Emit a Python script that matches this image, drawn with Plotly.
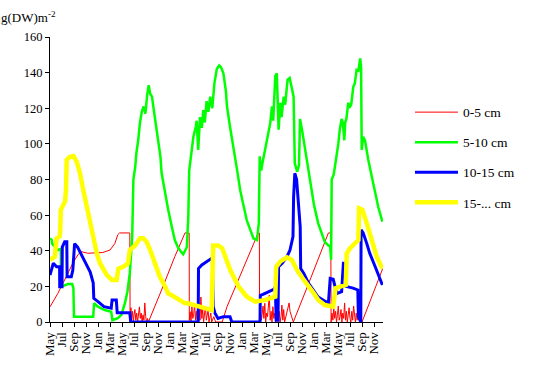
import plotly.graph_objects as go

# ---- axis labels ----
tick_months = list(range(0, 55, 2))
tick_labels = ["May", "Jul", "Sep", "Nov", "Jan", "Mar"] * 4 + ["May", "Jul", "Sep", "Nov"]

# ---- 0-5 cm (months since May of year 1, g m-2) ----
t_0_5 = [0, 1.3, 2.7, 3.8, 4.7, 5.2, 6.3, 8, 8.8, 10, 10.8, 11.3, 11.6, 13.3,
         13.35, 13.5, 13.6, 13.75, 13.9, 14.0, 14.15, 14.3, 14.45, 14.6, 14.75, 14.9, 15.05, 15.2, 15.35,
         15.5, 15.65, 15.8, 15.95, 16.1, 16.25, 16.4,
         18.6, 20.8, 22.5, 23.2,
         23.22, 23.35, 23.5, 23.65, 23.8, 23.95, 24.1, 24.25, 24.4, 24.55, 24.7, 24.85, 25.0, 25.15, 25.3,
         25.45, 25.6, 25.75, 25.9, 26.05, 26.2, 26.35, 26.5, 26.65, 26.8, 26.95, 27.1, 27.3, 27.6, 28.0, 28.7,
         29.5, 34.7, 34.9,
         34.92, 35.05, 35.2, 35.35, 35.5, 35.65, 35.8, 35.95, 36.1, 36.25, 36.4, 36.55, 36.7, 36.85, 37.0,
         37.15, 37.3, 37.45, 37.6, 37.75, 37.9, 38.05, 38.2, 38.35, 38.5, 38.65, 38.8, 38.95, 39.1, 39.25,
         39.4, 39.55, 39.7, 39.85, 40.0, 40.3, 40.5, 40.55,
         43.5, 46.4, 46.8,
         46.85, 47.0, 47.15, 47.3, 47.45, 47.6, 47.75, 47.9, 48.05, 48.2, 48.35, 48.5, 48.65, 48.8, 48.95,
         49.1, 49.25, 49.4, 49.55, 49.7, 49.85, 50.0, 50.15, 50.3, 50.45, 50.6, 50.75, 50.9, 51.05, 51.2,
         51.35, 51.5, 51.65, 51.8, 52.0,
         53.5, 55.45]
v_0_5 = [8.5, 16, 25.4, 33, 38, 39.5, 38.6, 38.6, 39, 40.4, 44, 49, 50, 50,
         2, 8, 1, 6, 0, 4, 7, 1, 5, 0, 3, 8.5, 2, 5, 0,
         4, 1, 10.7, 3, 0, 2, 0,
         18, 36.7, 50, 50,
         1, 5.8, 0, 8.6, 2, 4, 10.5, 1, 6, 0, 3, 6.7, 1, 14, 2,
         7, 0, 4, 9, 1, 3, 6.7, 0, 2, 5, 0, 1, 3, 0, 0, 0,
         8.6, 50, 50,
         0, 6.7, 1, 4, 9, 2, 10.5, 0, 5, 3, 8, 15, 1, 6, 0,
         8.6, 2, 5, 0, 4, 12, 1, 6, 0, 3, 9.5, 1, 7, 0, 2,
         5, 7, 8.5, 10.7, 6, 2, 0, 0,
         25, 50, 50,
         0, 5, 1, 8, 2, 6, 0, 4, 9, 1, 3, 7, 0, 5, 2,
         10.7, 1, 6, 0, 4, 8, 2, 0, 6, 1, 9, 3, 0, 5, 1,
         7, 2, 0, 3, 0,
         13, 30]

# ---- 5-10 cm ----
t_5_10 = [0, 0.3, 0.35, 1.3, 1.8, 1.85, 3, 3.7, 3.9, 4.0, 7.2, 7.35, 8, 9.1, 10.2, 10.4, 11.3, 11.9,
          12.5, 12.9, 13.3, 13.6, 13.7, 13.9, 14.2, 14.4, 14.7, 15, 15.3, 15.6, 15.9, 16.2, 16.45, 16.7,
          17, 17.3, 17.8, 18.4, 18.6, 19.2, 19.7, 20.3, 20.8, 21.4, 22.2, 22.8, 23.05, 23.2, 23.5, 23.9,
          24.3, 24.45, 24.7, 25, 25.3, 25.55, 25.8, 26.1, 26.4, 26.7, 27.05, 27.4, 27.8, 28.2, 28.5, 28.9,
          29.3, 29.5, 30, 30.6, 31.2, 31.7, 32.3, 32.8, 33.4, 33.9, 34.5, 34.8, 34.95, 35.2, 35.4, 35.9,
          36.2, 36.7, 37, 37.2, 37.55, 37.8, 38.1, 38.4, 38.6, 38.95, 39.2, 39.6, 39.95, 40.3, 40.6, 40.8,
          41.2, 41.5, 41.67, 42, 42.55, 43.1, 43.7, 44, 44.7, 45.3, 45.8, 46.4, 46.7, 46.85, 46.95, 47.3,
          47.5, 47.8, 48.05, 48.3, 48.6, 48.8, 49.05, 49.2, 49.4, 49.7, 50, 50.2, 50.55, 50.8, 51.1, 51.4,
          51.7, 51.85, 51.95, 52.2, 52.5, 53.05, 53.6, 54.2, 54.7, 55.4]
v_5_10 = [47, 46, 44, 40.4, 41, 19.8, 21.3, 21.3, 19, 3, 3, 10.5, 8.6, 6.7, 5.8, 1, 2.2, 4,
          10.7, 17, 27.3, 40.4, 48, 80, 87, 95, 102, 112, 118, 121, 117, 127.5, 133, 128,
          126.5, 119, 108, 93, 83.6, 72, 63, 53.5, 46, 41.4, 38, 42, 59, 85, 93, 104,
          109.6, 113, 96.6, 115, 109, 119, 112, 124, 118, 126.5, 120, 134, 142, 144, 143, 139.6,
          130, 121, 109.6, 98.4, 85, 74, 64.7, 57, 51.6, 47, 46, 55.5, 93, 85, 89, 98.4,
          104, 111.5, 121, 113, 138, 139.6, 108, 123, 115, 126.5, 122, 136, 137, 131, 126.5, 89,
          84.4, 88, 114, 108, 96.6, 83.5, 72, 65.7, 55.4, 49.8, 45, 43, 42.3, 35, 80, 83,
          87, 94.7, 100, 108, 114, 112, 102, 112, 114, 123, 121, 122, 132, 134, 141.5, 141,
          148, 143, 96.6, 104, 102, 91, 81.6, 72, 64.7, 56.3]

# ---- 10-15 cm ----
t_10_15 = [0, 0.55, 1.1, 1.6, 1.62, 2.0, 2.05, 2.45, 2.8, 2.85, 3.55, 3.8, 4.1, 4.6, 5.8, 6.7, 7.2,
           7.3, 8, 9, 10.2, 10.35, 11.05, 11.2, 13.3, 13.45, 24.7, 24.75, 25.3, 26.4, 27.05, 27.2, 27.5,
           28, 28.9, 30, 30.3, 35, 35.05, 35.5, 37.3, 37.55, 37.7, 38, 38.1, 38.7, 39.5, 40, 40.5, 40.6,
           40.8, 41.1, 41.2, 41.45, 41.7, 41.78, 42.3, 43.1, 43.5, 44.7, 46.4, 46.7, 47.2, 47.5, 47.8,
           48.6, 48.9, 49.3, 49.35, 50.5, 51.3, 51.4, 51.8, 51.85, 52.2, 52.8, 53.3, 54.2, 55, 55.4]
v_10_15 = [26.4, 33, 31, 31, 19.8, 19.8, 42, 45, 45, 25.4, 25.4, 29, 44, 42, 34, 28, 22,
           13.3, 11.4, 8.6, 7.7, 12.4, 12.4, 5.2, 5.2, 0, 0, 30, 32, 34.4, 36, 8.6, 4.9,
           2, 3, 3, 0, 0, 15, 15.5, 18.4, 19.8, 1, 1, 31, 33, 36.7, 40.4, 48, 70,
           83.5, 80, 76, 66.6, 53.5, 30, 27.3, 21.7, 19.8, 14, 10.5, 24.5, 24, 19, 16,
           17, 33, 33, 20, 19, 18, 3, 0, 51.7, 50, 44, 38.5, 31, 23.6, 20.8]

# ---- 15-... cm ----
t_15 = [0, 0.8, 1.1, 1.6, 1.7, 1.8, 2.2, 2.5, 2.67, 2.78, 3.33, 3.9, 4.45, 5, 5.55, 6.1, 6.67, 7.2,
        7.8, 8.33, 8.9, 9.45, 10.3, 11.1, 11.4, 12.2, 13, 13.3, 14.2, 15, 15.55, 16.1, 16.7, 17.5, 18.3,
        19.2, 19.7, 20.3, 21.7, 22.5, 23, 25.3, 26.95, 27.2, 28, 28.7, 30.05, 31.45, 32.8, 34.2, 35.9,
        37.55, 37.7, 38.4, 39.5, 40.3, 41.2, 42.3, 43.4, 44, 44.7, 45.8, 47.2, 47.6, 49.3, 49.45, 50,
        50.8, 51.4, 51.5, 52.05, 52.8, 53.6, 54.45, 55.4]
v_15 = [34.8, 36.7, 47, 48, 50.7, 63, 65.7, 67.6, 74, 91, 92.8, 93.2, 90, 83.5, 74, 64.7, 55.4, 46,
        38.5, 33, 29, 26.4, 23.6, 23.6, 30, 31, 33, 40.4, 43, 47, 47, 45, 40.4, 33, 25.4,
        19.8, 16, 15, 12.4, 10.5, 10.5, 8.6, 6.7, 43, 43, 41.4, 29, 19.8, 14.2, 11.4, 12.4,
        14.2, 31, 34, 36.3, 34.8, 29, 23.6, 19, 16, 12.4, 9.5, 8.6, 19, 20.8, 38.5, 41.4,
        44, 46, 63.8, 63, 55.4, 46, 36.7, 30]

series = [
    ("0-5 cm", t_0_5, v_0_5, "#FF0000", 1),
    ("5-10 cm", t_5_10, v_5_10, "#00FF00", 2.5),
    ("10-15 cm", t_10_15, v_10_15, "#0000FF", 3),
    ("15-... cm", t_15, v_15, "#FFFF00", 4.5),
]

FONT = "'Times New Roman', 'Liberation Serif', 'DejaVu Serif', serif"

fig = go.Figure()
for i, (name, t, v, color, w) in enumerate(series):
    fig.add_trace(go.Scatter(x=t, y=v, mode="lines", name=name, legendgroup=str(i),
                             line=dict(color=color, width=w)))

fig.update_layout(
    width=536, height=372,
    margin=dict(l=50, r=153, t=37, b=50),
    paper_bgcolor="white", plot_bgcolor="white",
    font=dict(family=FONT, size=13, color="black"),
    showlegend=True,
    legend=dict(x=1.081, y=0.79, xanchor="left", yanchor="top",
                font=dict(family=FONT, size=13.5, color="black"),
                itemwidth=43, tracegroupgap=9.5, bgcolor="rgba(0,0,0,0)"),
    xaxis=dict(range=[0, 55.5], tickmode="array", tickvals=tick_months, ticktext=tick_labels,
               tickangle=-90, ticks="outside", ticklen=4, tickcolor="black", showgrid=False,
               zeroline=False, showline=True, linecolor="black", linewidth=1,
               tickfont=dict(family=FONT, size=13, color="black")),
    yaxis=dict(range=[0, 160], tickmode="array", tickvals=list(range(0, 161, 20)),
               ticks="outside", ticklen=4, tickcolor="black", showgrid=False, zeroline=False,
               showline=True, linecolor="black", linewidth=1,
               tickfont=dict(family=FONT, size=12.5, color="black")),
    annotations=[dict(text="g(DW)m<sup>-2</sup>", xref="paper", yref="paper", x=-0.153, y=1.07,
                      xanchor="left", yanchor="middle", showarrow=False,
                      font=dict(family=FONT, size=13, color="black"))],
)

fig.write_html("out.html", config={"displayModeBar": False},
               post_script="document.body.style.margin='0';")
